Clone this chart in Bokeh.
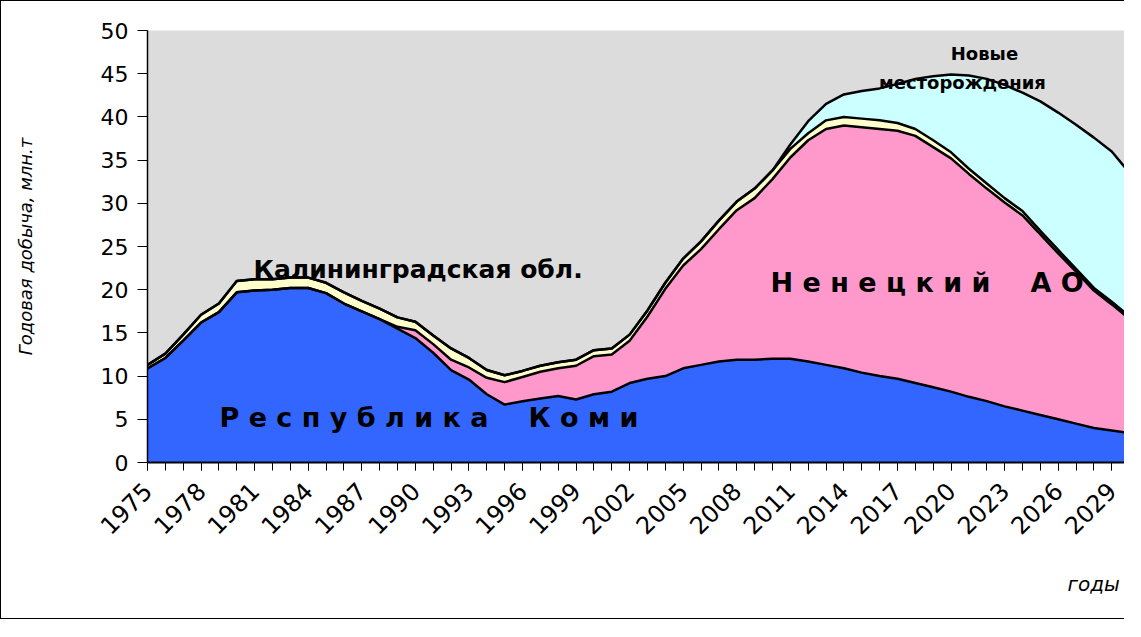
import math
from bokeh.plotting import figure
from bokeh.models import ColumnDataSource, Range1d, FixedTicker, Label, Title
from bokeh.embed import file_html
from bokeh.resources import INLINE

years = list(range(1975, 2031))

komi = [10.9, 12.1, 14.1, 16.2, 17.4, 19.7, 19.9, 20.0, 20.2, 20.2,
        19.6, 18.4, 17.5, 16.6, 15.5, 14.4, 12.7, 10.7, 9.6, 7.9,
        6.7, 7.1, 7.4, 7.7, 7.3, 7.9, 8.2, 9.2, 9.7, 10.0,
        10.9, 11.3, 11.7, 11.9, 11.9, 12.0, 12.0, 11.7, 11.3, 10.9,
        10.4, 10.0, 9.7, 9.2, 8.7, 8.2, 7.6, 7.1, 6.5, 6.0,
        5.5, 5.0, 4.5, 4.0, 3.7, 3.4]

nenets = [0, 0, 0, 0, 0, 0, 0, 0, 0, 0,
          0, 0, 0, 0, 0.2, 0.9, 1.0, 1.2, 1.4, 1.9,
          2.6, 2.8, 3.1, 3.2, 3.9, 4.4, 4.3, 4.9, 7.2, 10.1,
          11.9, 13.4, 15.3, 17.3, 18.7, 20.8, 23.3, 25.6, 27.3, 28.1,
          28.4, 28.6, 28.7, 28.6, 27.8, 27.0, 25.8, 24.6, 23.6, 22.6,
          20.9, 19.2, 17.6, 15.9, 14.6, 13.2]

kaliningrad = [0.4, 0.5, 0.7, 0.9, 1.0, 1.3, 1.3, 1.2, 1.2, 1.2,
               1.2, 1.3, 1.2, 1.2, 1.1, 1.0, 1.0, 1.3, 1.1, 0.9,
               0.8, 0.7, 0.7, 0.7, 0.7, 0.7, 0.7, 0.7, 0.7, 0.7,
               0.8, 0.9, 1.0, 1.0, 1.1, 1.0, 1.0, 0.8, 1.0, 1.0,
               1.0, 1.0, 0.9, 0.8, 0.8, 0.7, 0.6, 0.6, 0.5, 0.5,
               0.4, 0.4, 0.3, 0.3, 0.3, 0.3]

new_fields = [0, 0, 0, 0, 0, 0, 0, 0, 0, 0,
              0, 0, 0, 0, 0, 0, 0, 0, 0, 0,
              0, 0, 0, 0, 0, 0, 0, 0, 0, 0,
              0, 0, 0, 0, 0, 0, 0.5, 1.4, 1.9, 2.6,
              3.2, 3.7, 4.5, 5.8, 7.4, 9.0, 10.8, 12.1, 13.1, 13.7,
              15.0, 15.9, 16.7, 17.4, 17.4, 16.6]

x_tick_years = list(range(1975, 2030, 3))
y_ticks = list(range(0, 51, 5))

series = ["komi", "nenets", "kalin", "new"]
colors = ["#3366FF", "#FF99CC", "#FFFFCC", "#CCFFFF"]

src = ColumnDataSource(dict(year=years, komi=komi, nenets=nenets,
                            kalin=kaliningrad, new=new_fields))

p = figure(width=1124, height=619, output_backend="svg", toolbar_location=None,
           x_range=Range1d(1975, 2029.77), y_range=Range1d(0, 50),
           min_border_left=146, min_border_right=0, min_border_top=29,
           min_border_bottom=158)
p.styles = {"border-left": "1px solid black", "border-top": "1px solid black",
            "border-bottom": "1px solid black"}

p.background_fill_color = "#dcdcdc"
p.border_fill_color = "white"
p.outline_line_color = None
p.xgrid.visible = False
p.ygrid.visible = False

p.varea_stack(series, x="year", source=src, fill_color=colors)
p.vline_stack(series, x="year", source=src, line_color="black",
              line_width=2.5, line_join="round")

xa = p.xaxis[0]
xa.ticker = FixedTicker(ticks=x_tick_years, minor_ticks=years)
xa.major_label_orientation = math.pi / 4
xa.major_tick_out = 8
xa.major_tick_in = 0
xa.minor_tick_out = 8
xa.minor_tick_in = 0
xa.major_tick_line_color = "black"
xa.minor_tick_line_color = "black"
xa.axis_line_color = "black"
xa.axis_line_width = 2
xa.major_label_text_font = "DejaVu Sans"
xa.major_label_text_font_size = "24px"
xa.major_label_text_color = "black"
xa.major_label_standoff = 16

ya = p.yaxis[0]
ya.ticker = FixedTicker(ticks=y_ticks)
ya.major_tick_out = 10
ya.major_tick_in = 0
ya.minor_tick_line_color = None
ya.major_tick_line_color = "black"
ya.axis_line_color = "black"
ya.axis_line_width = 1.5
ya.major_label_text_font = "DejaVu Sans"
ya.major_label_text_font_size = "22px"
ya.major_label_text_color = "black"
ya.major_label_standoff = 9
ya.axis_label = "Годовая добыча, млн.т"
ya.axis_label_text_font = "DejaVu Sans"
ya.axis_label_text_font_style = "italic"
ya.axis_label_text_font_size = "18px"
ya.axis_label_text_color = "black"
ya.axis_label_standoff = 62

try:
    t = Title(text="годы", align="left", offset=920, standoff=49,
              text_font="DejaVu Sans", text_font_style="italic",
              text_font_size="20px", text_color="black")
except Exception:
    t = Title(text="годы", align="left", offset=920,
              text_font="DejaVu Sans", text_font_style="italic",
              text_font_size="20px", text_color="black")
p.add_layout(t, "below")


def lab(x, y, text, size, style="bold", align="left", baseline="alphabetic"):
    p.add_layout(Label(x=x, y=y, text=text, text_font="DejaVu Sans",
                       text_font_size=size, text_font_style=style,
                       text_align=align, text_baseline=baseline,
                       text_color="black"))


lab(1979.03, 5.25, "Р е с п у б л и к а", "27px")
lab(1996.34, 5.25, "К о м и", "27px")
lab(2009.89, 20.85, "Н е н е ц к и й", "27px")
lab(2024.45, 20.85, "А О", "27px")
lab(1980.94, 22.35, "Калининградская обл.", "25px")
lab(2021.87, 47.35, "Новые", "18px", align="center")
lab(2020.64, 44.0, "месторождения", "18px", align="center")

open("out.html", "w").write(file_html(p, INLINE))
